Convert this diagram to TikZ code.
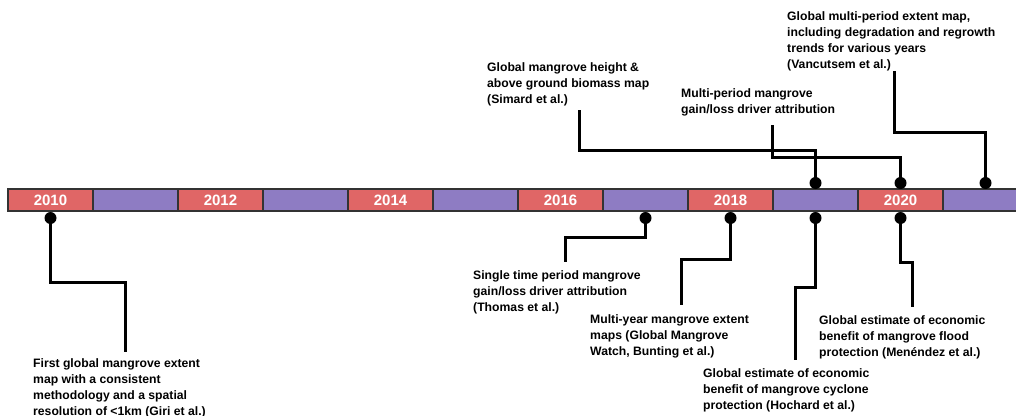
\documentclass[tikz,border=0pt]{standalone}
\usepackage{fontspec}
\setmainfont{Liberation Sans}
\definecolor{yrred}{HTML}{E06666}
\definecolor{yrpurple}{HTML}{8E7CC3}
\definecolor{edge}{HTML}{333333}
\begin{document}
\begin{tikzpicture}[x=1pt,y=-1pt,
  seg/.style={draw=edge,line width=1.2pt,minimum width=85pt,minimum height=22pt,inner sep=0pt,
    font=\fontsize{15}{15}\selectfont\bfseries,text=white},
  redseg/.style={seg,fill=yrred},
  purseg/.style={seg,fill=yrpurple},
  dot/.style={circle,fill=black,minimum size=12pt,inner sep=0pt},
  conn/.style={line width=3pt,black},
  lbl/.style={anchor=north west,inner sep=0pt,align=left,
    font=\fontsize{12.2}{16}\selectfont\bfseries}]
\useasboundingbox (0,0) rectangle (1016,415);
% bar
\node[redseg] (s0) at (50.5,200) {2010};
\node[purseg] (s1) at (135.5,200) {};
\node[redseg] (s2) at (220.5,200) {2012};
\node[purseg] (s3) at (305.5,200) {};
\node[redseg] (s4) at (390.5,200) {2014};
\node[purseg] (s5) at (475.5,200) {};
\node[redseg] (s6) at (560.5,200) {2016};
\node[purseg] (s7) at (645.5,200) {};
\node[redseg] (s8) at (730.5,200) {2018};
\node[purseg] (s9) at (815.5,200) {};
\node[redseg] (s10) at (900.5,200) {2020};
\node[purseg] (s11) at (985.5,200) {};
% dots below
\node[dot] (b0) at (50.5,218) {};
\node[dot] (b7) at (645.5,218) {};
\node[dot] (b8) at (730.5,218) {};
\node[dot] (b9) at (815.5,218) {};
\node[dot] (b10) at (900.5,218) {};
% dots above
\node[dot] (t9) at (815.5,183) {};
\node[dot] (t10) at (900.5,183) {};
\node[dot] (t11) at (985.5,183) {};
% labels
\node[lbl] (giri) at (33,358) {First global mangrove extent\\map with a consistent\\methodology and a spatial\\resolution of <1km (Giri et al.)};
\node[lbl] (thomas) at (473,270) {Single time period mangrove\\gain/loss driver attribution\\(Thomas et al.)};
\node[lbl] (bunting) at (590,314) {Multi-year mangrove extent\\maps (Global Mangrove\\Watch, Bunting et al.)};
\node[lbl] (hochard) at (703,368) {Global estimate of economic\\benefit of mangrove cyclone\\protection (Hochard et al.)};
\node[lbl] (menendez) at (819,315) {Global estimate of economic\\benefit of mangrove flood\\protection (Menéndez et al.)};
\node[lbl] (simard) at (487,62) {Global mangrove height \&\\above ground biomass map\\(Simard et al.)};
\node[lbl] (multi) at (681,88) {Multi-period mangrove\\gain/loss driver attribution};
\node[lbl] (vanc) at (787,11) {Global multi-period extent map,\\including degradation and regrowth\\trends for various years\\(Vancutsem et al.)};
% connector ends
\coordinate (e0) at (125,352);
\coordinate (e7) at (565,262);
\coordinate (e8) at (681,305);
\coordinate (e9) at (795,360);
\coordinate (e10) at (912,307);
\coordinate (f9) at (579,110);
\coordinate (f10) at (772,125);
\coordinate (f11) at (894,71);
% connectors
\draw[conn] (b0.center) -- (b0.center |- 0,282) -| (e0);
\draw[conn] (b7.center) -- (b7.center |- 0,237) -| (e7);
\draw[conn] (b8.center) -- (b8.center |- 0,259) -| (e8);
\draw[conn] (b9.center) -- (b9.center |- 0,287) -| (e9);
\draw[conn] (b10.center) -- (b10.center |- 0,262) -| (e10);
\draw[conn] (t9.center) -- (t9.center |- 0,150) -| (f9);
\draw[conn] (t10.center) -- (t10.center |- 0,157) -| (f10);
\draw[conn] (t11.center) -- (t11.center |- 0,132) -| (f11);
\end{tikzpicture}
\end{document}
